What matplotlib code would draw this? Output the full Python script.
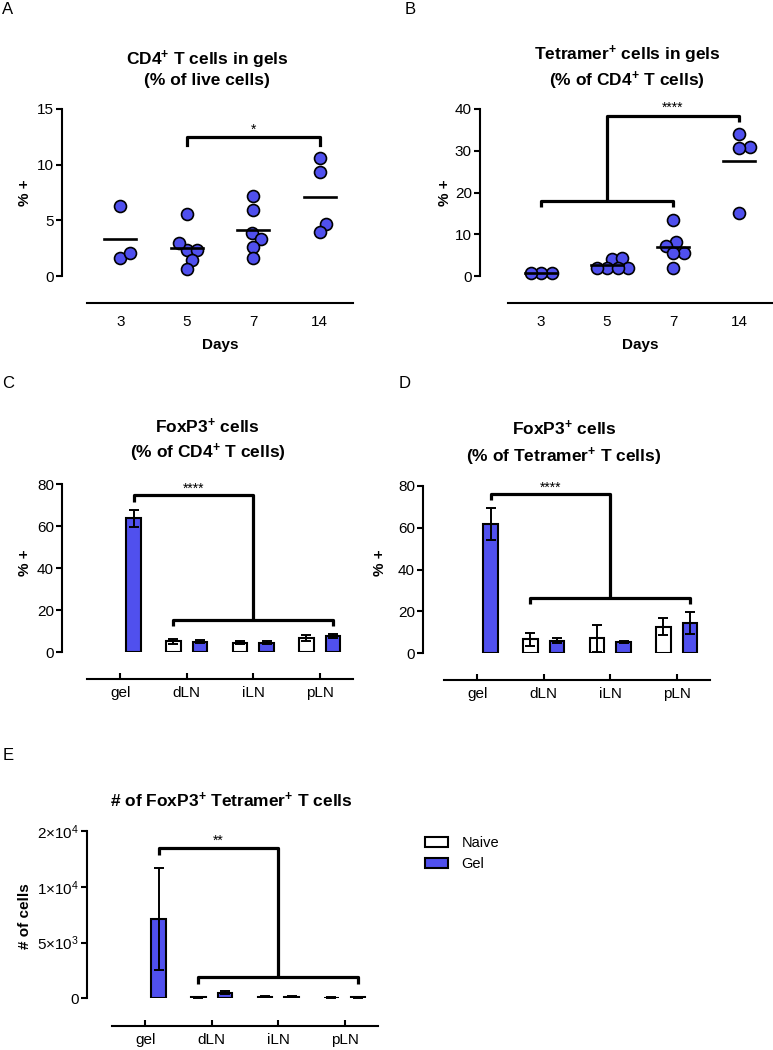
import numpy as np
import matplotlib
matplotlib.use("Agg")
import matplotlib.pyplot as plt
from matplotlib.patches import Patch

plt.rcParams["font.family"] = ["Liberation Sans", "DejaVu Sans"]
plt.rcParams["mathtext.fontset"] = "custom"
plt.rcParams["mathtext.rm"] = "Liberation Sans"
plt.rcParams["mathtext.bf"] = "Liberation Sans:bold"
plt.rcParams["mathtext.default"] = "regular"

BLUE = "#5050EE"
W, H = 773, 1050

# ---- data ----
days = ["3", "5", "7", "14"]
cd4_d3 = [6.3, 1.65, 2.1]
cd4_d5 = [5.6, 2.3, 2.3, 3.0, 1.45, 0.6]
cd4_d7 = [7.2, 5.9, 3.9, 3.3, 2.6, 1.65]
cd4_d14 = [10.6, 9.3, 4.7, 3.95]
tet_d3 = [0.7, 0.6, 0.75]
tet_d5 = [4.1, 4.2, 2.0, 1.8, 1.8, 2.0]
tet_d7 = [13.3, 8.2, 7.3, 5.6, 5.4, 2.0]
tet_d14 = [33.9, 30.9, 30.7, 15.0]

sites = ["gel", "dLN", "iLN", "pLN"]
foxp3_cd4_naive = [np.nan, 5.2, 4.6, 6.9]
foxp3_cd4_naive_err = [np.nan, 1.2, 0.6, 1.3]
foxp3_cd4_gel = [63.8, 5.0, 4.6, 7.8]
foxp3_cd4_gel_err = [4.2, 0.7, 0.6, 1.0]

foxp3_tet_naive = [np.nan, 6.7, 7.2, 12.7]
foxp3_tet_naive_err = [np.nan, 3.1, 6.5, 4.0]
foxp3_tet_gel = [61.6, 6.0, 5.5, 14.3]
foxp3_tet_gel_err = [7.6, 1.3, 0.6, 5.3]

count_naive = [np.nan, 90, 160, 70]
count_naive_err = [np.nan, 30, 50, 20]
count_gel = [7126, 500, 160, 100]
count_gel_err = [4560, 150, 50, 30]

fig = plt.figure(figsize=(W / 100, H / 100), dpi=100)


def px_axes(x0, x1, ytop, ybot):
    return fig.add_axes([x0 / W, 1 - ybot / H, (x1 - x0) / W, (ybot - ytop) / H])


def style(ax, ylim, yticks, left_off, bottom_off, xlabels, xticks_in):
    ax.set_xlim(-0.5, 3.5)
    ax.set_ylim(*ylim)
    for s in ("top", "right"):
        ax.spines[s].set_visible(False)
    ax.spines["left"].set_position(("outward", left_off * 0.72))
    ax.spines["bottom"].set_position(("outward", bottom_off * 0.72))
    for s in ("left", "bottom"):
        ax.spines[s].set_linewidth(1.5)
    ax.set_yticks(yticks)
    ax.tick_params(axis="y", length=4.3, width=1.5, pad=1.5, labelsize=11)
    ax.set_xticks(range(4))
    ax.set_xticklabels(xlabels)
    if xticks_in:
        ax.tick_params(axis="x", direction="in", length=4.3, width=1.5, pad=5, labelsize=11)
    else:
        ax.tick_params(axis="x", length=0, pad=8.5, labelsize=11)
    ax.patch.set_visible(False)


def swarm_x(ax, values, center, diam):
    tr = ax.transData
    ys = [tr.transform((center, v))[1] for v in values]
    cx = tr.transform((center, 0))[0]
    placed, offs = [], [0.0] * len(values)
    for i in np.argsort(ys):
        y = ys[i]
        k = 0
        while True:
            cands = [0.0] if k == 0 else [k * 0.5, -k * 0.5]
            hit = None
            for o in cands:
                if all((o - px) ** 2 + (y - py) ** 2 >= diam ** 2 for px, py in placed):
                    hit = o
                    break
            if hit is not None:
                break
            k += 1
        placed.append((hit, y))
        offs[i] = tr.inverted().transform((cx + hit, y))[0]
    return offs


def dotplot(ax, groups):
    for i, vals in enumerate(groups):
        xs = swarm_x(ax, vals, i, 10.5)
        ax.plot(xs, vals, "o", ms=8.6, mfc=BLUE, mec="black", mew=1.2, ls="none",
                zorder=3, clip_on=False)
        m = np.mean(vals)
        ax.plot([i - 0.24, i + 0.24], [m, m], color="black", lw=1.9, zorder=4)


def barplot(ax, naive, naive_err, gel, gel_err):
    x = np.arange(4)
    for vals, errs, off, fc in ((naive, naive_err, -0.2, "white"), (gel, gel_err, 0.2, BLUE)):
        vals = np.asarray(vals, float)
        errs = np.asarray(errs, float)
        ok = ~np.isnan(vals)
        ax.bar(x[ok] + off, vals[ok], width=0.22, color=fc, edgecolor="black",
               linewidth=1.5, zorder=2)
        ax.errorbar(x[ok] + off, vals[ok], yerr=errs[ok], fmt="none", ecolor="black",
                    elinewidth=1.4, capsize=3.3, capthick=1.4, zorder=3)


def sig_combo(ax, lo_x0, lo_x1, lo_y, lo_drop, mid_x, top_y, top_x, top_drop, stars, star_x, star_y):
    kw = dict(color="black", lw=2.3, clip_on=False, solid_capstyle="butt", zorder=5)
    ax.plot([lo_x0, lo_x0, lo_x1, lo_x1], [lo_y - lo_drop, lo_y, lo_y, lo_y - lo_drop], **kw)
    ax.plot([mid_x, mid_x, top_x, top_x], [lo_y, top_y, top_y, top_y - top_drop], **kw)
    ax.text(star_x, star_y, stars, ha="center", va="center", fontsize=10)


def ftext(x, y, s, **kw):
    fig.text(x / W, 1 - y / H, s, **kw)


# ---- A ----
axA = px_axes(87, 353, 109, 276)
style(axA, (0, 15), [0, 5, 10, 15], 25, 27, days, False)
dotplot(axA, [cd4_d3, cd4_d5, cd4_d7, cd4_d14])
axA.plot([1, 1, 3, 3], [11.8, 12.5, 12.5, 11.8], color="black", lw=2.3, clip_on=False)
axA.text(2, 13.1, "*", ha="center", va="center", fontsize=10)

# ---- B ----
axB = px_axes(508, 772, 109, 276)
style(axB, (0, 40), [0, 10, 20, 30, 40], 28, 27, days, False)
dotplot(axB, [tet_d3, tet_d5, tet_d7, tet_d14])
sig_combo(axB, 0, 2, 18.0, 1.5, 1, 38.4, 3, 1.4, "****", 2, 40.2)

# ---- C ----
axC = px_axes(87, 353, 484.3, 652.3)
style(axC, (0, 80), [0, 20, 40, 60, 80], 25, 27, sites, True)
barplot(axC, foxp3_cd4_naive, foxp3_cd4_naive_err, foxp3_cd4_gel, foxp3_cd4_gel_err)
sig_combo(axC, 0.8, 3.2, 15.4, 2.9, 2, 74.9, 0.2, 3.2, "****", 1.1, 78.0)

# ---- D ----
axD = px_axes(444, 710, 485.7, 653.3)
style(axD, (0, 80), [0, 20, 40, 60, 80], 21, 27, sites, True)
barplot(axD, foxp3_tet_naive, foxp3_tet_naive_err, foxp3_tet_gel, foxp3_tet_gel_err)
sig_combo(axD, 0.8, 3.2, 26.5, 3.1, 2, 75.9, 0.2, 2.9, "****", 1.1, 79.0)

# ---- E ----
axE = px_axes(112, 378, 831, 998.3)
style(axE, (0, 15000), [0, 5000, 10000, 15000], 25, 27.4, sites, True)
axE.set_yticklabels(["0", "5×10$^{3}$", "1×10$^{4}$", "2×10$^{4}$"])
barplot(axE, count_naive, count_naive_err, count_gel, count_gel_err)
sig_combo(axE, 0.8, 3.2, 1886, 600, 2, 13443, 0.2, 570, "**", 1.1, 14100)

handles = [Patch(facecolor="white", edgecolor="black", linewidth=1.5, label="Naive"),
           Patch(facecolor=BLUE, edgecolor="black", linewidth=1.5, label="Gel")]
fig.legend(handles=handles, loc="upper left", bbox_to_anchor=(425 / W, 1 - 836 / H),
           frameon=False, fontsize=10.5, borderpad=0, borderaxespad=0,
           handlelength=1.6, handleheight=0.7, handletextpad=0.9, labelspacing=0.5)

# ---- titles & labels ----
tkw = dict(ha="center", va="baseline", fontsize=12.5, fontweight="bold")
ftext(207, 65, r"CD4$^{\mathbf{+}}$ T cells in gels", **tkw)
ftext(207, 85.5, "(% of live cells)", **tkw)
ftext(627, 59.5, r"Tetramer$^{\mathbf{+}}$ cells in gels", **tkw)
ftext(627, 85.7, r"(% of CD4$^{\mathbf{+}}$ T cells)", **tkw)
ftext(207, 432.7, r"FoxP3$^{\mathbf{+}}$ cells", **tkw)
ftext(208, 458.3, r"(% of CD4$^{\mathbf{+}}$ T cells)", **tkw)
ftext(564, 435, r"FoxP3$^{\mathbf{+}}$ cells", **tkw)
ftext(564, 461.7, r"(% of Tetramer$^{\mathbf{+}}$ T cells)", **tkw)
ftext(231, 806.7, r"# of FoxP3$^{\mathbf{+}}$ Tetramer$^{\mathbf{+}}$ T cells", **tkw)

lkw = dict(ha="center", va="center", fontsize=11, fontweight="bold")
ftext(220, 345, "Days", **lkw)
ftext(640, 345, "Days", **lkw)
for x, y in ((25, 193), (445, 193), (25, 563), (380, 563)):
    ftext(x, y, "% +", rotation=90, **lkw)
ftext(25, 916, "# of cells", rotation=90, **lkw)

for x, y, s in ((8, 9, "A"), (410, 9, "B"), (8, 383, "C"), (405, 383, "D"), (8, 755, "E")):
    ftext(x, y, s, ha="center", va="center", fontsize=12)

fig.savefig("out.png", dpi=100, facecolor="white")
